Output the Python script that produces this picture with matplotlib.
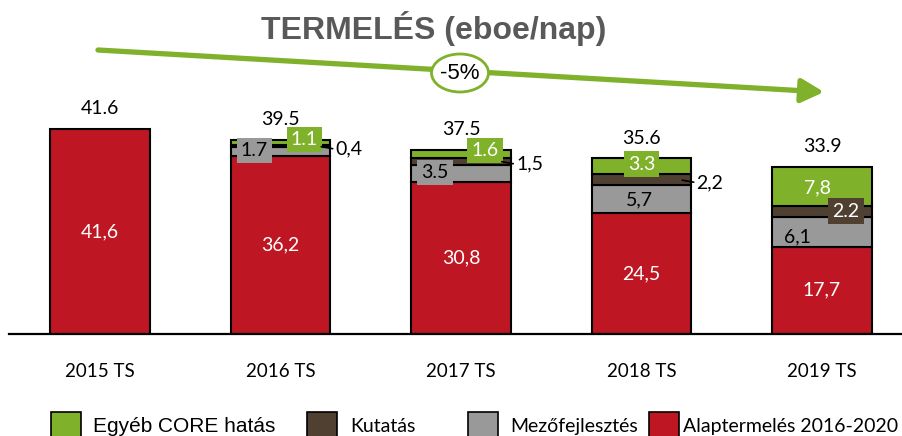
import matplotlib
matplotlib.use('Agg')
import matplotlib.pyplot as plt
from matplotlib.patches import Rectangle, Ellipse, FancyArrowPatch

# Data
years = ['2015 TS', '2016 TS', '2017 TS', '2018 TS', '2019 TS']
alap = [41.6, 36.2, 30.8, 24.5, 17.7]
mezo = [0, 1.7, 3.5, 5.7, 6.1]
kutatas = [0, 0.4, 1.5, 2.2, 2.2]
egyeb = [0, 1.1, 1.6, 3.3, 7.8]
totals = [41.6, 39.5, 37.5, 35.6, 33.9]

alap_labels = ['41,6', '36,2', '30,8', '24,5', '17,7']
mezo_labels = [None, '1.7', '3.5', '5,7', '6,1']
kutatas_labels = [None, '0,4', '1,5', '2,2', '2.2']
egyeb_labels = [None, '1.1', '1.6', '3.3', '7,8']
total_labels = ['41.6', '39.5', '37.5', '35.6', '33.9']

series_names = ['Egyéb CORE hatás', 'Kutatás', 'Mezőfejlesztés', 'Alaptermelés 2016-2020']

GREEN = '#7FB12A'
BROWN = '#4F4032'
GRAY = '#999999'
RED = '#BE1623'
TITLE_GRAY = '#595959'

CAL = ['Lato', 'DejaVu Sans']
ARIAL = ['Liberation Sans', 'DejaVu Sans']

W, H = 903, 436
fig = plt.figure(figsize=(W / 100, H / 100), dpi=100)
base_px = 334
ax = fig.add_axes([9 / W, (H - base_px) / H, (W - 9) / W, base_px / H])
px_x = 180.5
px_y = 4.93
ax.set_xlim(-91 / px_x, (W - 100) / px_x)
ax.set_ylim(0, base_px / px_y)

x = list(range(len(years)))
bw = 0.554
ekw = dict(edgecolor='black', linewidth=1.5, width=bw)

b1 = list(alap)
b2 = [a + m for a, m in zip(alap, mezo)]
b3 = [a + k for a, k in zip(b2, kutatas)]
ax.bar(x, alap, color=RED, **ekw)
for i in range(1, 5):
    ax.bar(x[i], mezo[i], bottom=b1[i], color=GRAY, **ekw)
    ax.bar(x[i], kutatas[i], bottom=b2[i], color=BROWN, **ekw)
    ax.bar(x[i], egyeb[i], bottom=b3[i], color=GREEN, **ekw)

fs = 14
# red labels
for i in x:
    ax.text(i, alap[i] / 2, alap_labels[i], ha='center', va='center',
            color='white', fontsize=fs, family=CAL)

# totals
for i in x:
    ax.annotate(total_labels[i], (i, totals[i]), xytext=(0, 20),
                textcoords='offset pixels', ha='center', va='center',
                fontsize=fs, family=CAL, color='black')

def boxed(i, y, txt, dx, dy, fc, tc):
    ax.annotate(txt, (i, y), xytext=(dx, dy), textcoords='offset pixels',
                ha='center', va='center', fontsize=fs, family=CAL, color=tc,
                bbox=dict(boxstyle='square,pad=0.22', fc=fc, ec='none'))

# gray segment labels
for i in range(1, 5):
    mid = b1[i] + mezo[i] / 2
    if i in (1, 2):
        boxed(i, mid, mezo_labels[i], -26, 1, GRAY, 'black')
    elif i == 3:
        ax.annotate(mezo_labels[i], (i, mid), xytext=(-2, -1), textcoords='offset pixels',
                    ha='center', va='center', fontsize=fs, family=CAL)
    else:
        ax.annotate(mezo_labels[i], (i, mid), xytext=(-25, -5), textcoords='offset pixels',
                    ha='center', va='center', fontsize=fs, family=CAL)

# green segment labels
for i in range(1, 5):
    mid = b3[i] + egyeb[i] / 2
    if i in (1, 2):
        boxed(i, mid, egyeb_labels[i], 24, 3, GREEN, 'white')
    elif i == 3:
        boxed(i, mid, egyeb_labels[i], 0, 2, GREEN, 'white')
    else:
        ax.annotate(egyeb_labels[i], (i, mid), xytext=(-4, -1), textcoords='offset pixels',
                    ha='center', va='center', fontsize=fs, family=CAL, color='white')

# brown segment labels
for i in range(1, 5):
    mid = b2[i] + kutatas[i] / 2
    if i < 4:
        edge = i + bw / 2
        ax.annotate(kutatas_labels[i], (edge - 12 / px_x, mid), xytext=(17, -3),
                    textcoords='offset pixels', ha='left', va='center',
                    fontsize=fs, family=CAL,
                    arrowprops=dict(arrowstyle='-', color='black', lw=1.2,
                                    shrinkA=0, shrinkB=2, relpos=(0, 0.5)))
    else:
        boxed(i, mid, kutatas_labels[i], 24, 0, BROWN, 'white')

for s in ['top', 'left', 'right']:
    ax.spines[s].set_visible(False)
ax.spines['bottom'].set_linewidth(1.6)
ax.set_yticks([])
ax.set_xticks(x)
ax.set_xticklabels(years, fontsize=13.5, family=CAL)
ax.tick_params(axis='x', length=0, pad=21)

# title
fig.text(434 / W, 1 - 29 / H, 'TERMELÉS (eboe/nap)', ha='center', va='center',
         fontsize=23, fontweight='bold', color=TITLE_GRAY, family=ARIAL)

# trend arrow with -5% bubble
fig.add_artist(FancyArrowPatch(
    (98, H - 50), (824, H - 92), transform=None,
    arrowstyle='-|>,head_length=0.85,head_width=0.45', mutation_scale=16,
    color=GREEN, lw=3.8, shrinkA=0, shrinkB=0))
fig.add_artist(Ellipse((460, H - 73), 57, 38, transform=None,
                       fc='white', ec=GREEN, lw=2))
fig.text(460 / W, 1 - 73 / H, '-5%', ha='center', va='center', fontsize=16,
         family=ARIAL, color='black')

# legend
leg_colors = [GREEN, BROWN, GRAY, RED]
sq_x = [51, 307, 468, 649]
txt_x = [93, 350, 510, 683]
leg_fonts = [ARIAL, CAL, CAL, CAL]
leg_sizes = [15, 14, 14, 14]
for c, sx, tx, name, fam, sz in zip(leg_colors, sq_x, txt_x, series_names, leg_fonts, leg_sizes):
    fig.add_artist(Rectangle((sx, H - 440), 30, 28, transform=None,
                             fc=c, ec='black', lw=1.2))
    fig.text(tx / W, 1 - 426 / H, name, ha='left', va='center', fontsize=sz, family=fam)

fig.savefig('out.png', dpi=100)
